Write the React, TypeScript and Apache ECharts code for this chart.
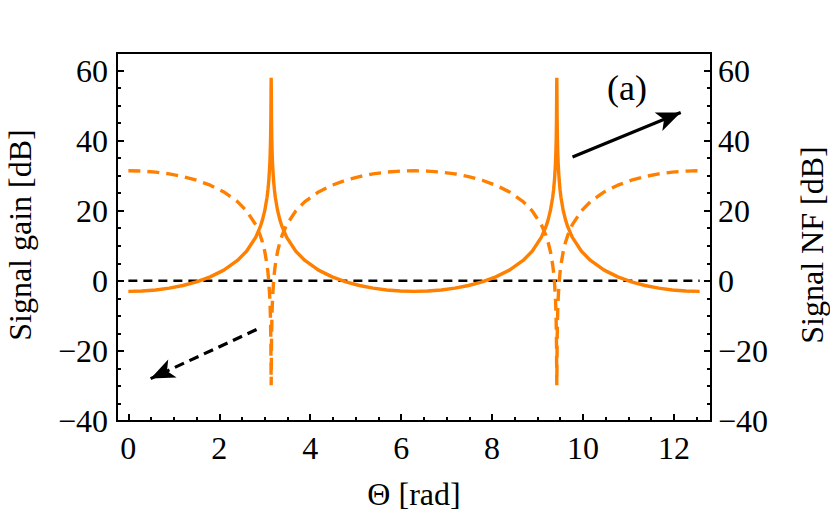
import React, { useEffect, useRef } from "react";
import * as echarts from "echarts";

// Θ [rad] sample positions
const theta = [
  0, 0.3, 0.6, 0.9, 1.2, 1.5, 1.8, 2.1, 2.4, 2.6, 2.8, 2.9, 2.95, 3.0, 3.05, 3.07, 3.09, 3.11, 3.12, 3.128, 3.135, 3.139, 3.1416,
  3.1442, 3.1482, 3.1552, 3.1632, 3.1732, 3.1932, 3.2132, 3.2332, 3.2832, 3.3332, 3.3832, 3.4832, 3.6832, 3.8832, 4.1832, 4.4832, 4.7832, 5.0832, 5.3832, 5.6832, 5.9832, 6.2832,
  6.5832, 6.8832, 7.1832, 7.4832, 7.7832, 8.0832, 8.3832, 8.6832, 8.8832, 9.0832, 9.1832, 9.2332, 9.2832, 9.3332, 9.3532, 9.3732, 9.3932, 9.4032, 9.4112, 9.4182, 9.4222, 9.4248,
  9.4274, 9.4314, 9.4384, 9.4464, 9.4564, 9.4764, 9.4964, 9.5164, 9.5664, 9.6164, 9.6664, 9.7664, 9.9664, 10.1664, 10.4664, 10.7664, 11.0664, 11.3664, 11.6664, 11.9664, 12.2664, 12.5664,
];

// Signal gain [dB] (solid)
const gainDb = [
  -3.01, -2.91, -2.61, -2.1, -1.34, -0.3, 1.12, 3.05, 5.81, 8.44, 12.38, 15.38, 17.38, 20.0, 23.78, 25.91, 28.76, 33.02, 36.32, 40.34, 46.62, 54.71, 57.9,
  54.71, 46.62, 40.34, 36.32, 33.02, 28.76, 25.91, 23.78, 20.0, 17.38, 15.38, 12.38, 8.44, 5.81, 3.05, 1.12, -0.3, -1.34, -2.1, -2.61, -2.91, -3.01,
  -2.91, -2.61, -2.1, -1.34, -0.3, 1.12, 3.05, 5.81, 8.44, 12.38, 15.38, 17.38, 20.0, 23.78, 25.91, 28.76, 33.02, 36.32, 40.34, 46.62, 54.71, 57.9,
  54.71, 46.62, 40.34, 36.32, 33.02, 28.76, 25.91, 23.78, 20.0, 17.38, 15.38, 12.38, 8.44, 5.81, 3.05, 1.12, -0.3, -1.34, -2.1, -2.61, -2.91, -3.01,
];

// Signal NF [dB] (dashed)
const nfDb = [
  31.41, 31.31, 31.01, 30.5, 29.74, 28.7, 27.28, 25.35, 22.59, 19.96, 16.02, 13.02, 11.02, 8.4, 4.62, 2.49, -0.36, -4.62, -7.92, -11.94, -18.22, -26.31, -29.8,
  -26.31, -18.22, -11.94, -7.92, -4.62, -0.36, 2.49, 4.62, 8.4, 11.02, 13.02, 16.02, 19.96, 22.59, 25.35, 27.28, 28.7, 29.74, 30.5, 31.01, 31.31, 31.41,
  31.31, 31.01, 30.5, 29.74, 28.7, 27.28, 25.35, 22.59, 19.96, 16.02, 13.02, 11.02, 8.4, 4.62, 2.49, -0.36, -4.62, -7.92, -11.94, -18.22, -26.31, -29.8,
  -26.31, -18.22, -11.94, -7.92, -4.62, -0.36, 2.49, 4.62, 8.4, 11.02, 13.02, 16.02, 19.96, 22.59, 25.35, 27.28, 28.7, 29.74, 30.5, 31.01, 31.31, 31.41,
];

// zero reference line
const zeroLineX = [0, 12.5664];
const zeroLineY = [0, 0];

// tick positions
const xMajorTicks = [0, 2, 4, 6, 8, 10, 12];
const xMinorTicks = [0.5, 1, 1.5, 2.5, 3, 3.5, 4.5, 5, 5.5, 6.5, 7, 7.5, 8.5, 9, 9.5, 10.5, 11, 11.5, 12.5];
const yMajorTicks = [-40, -20, 0, 20, 40, 60];
const yMinorTicks = [-35, -30, -25, -15, -10, -5, 5, 10, 15, 25, 30, 35, 45, 50, 55];

// arrow annotations (data coordinates)
const arrowGain = [[9.77, 35.3], [12.15, 48.0]];
const arrowNF = [[2.82, -13.9], [0.49, -27.9]];

const X_MIN = -0.25;
const X_MAX = 12.8164;
const Y_MIN = -40;
const Y_MAX = 65;

const FONT = "Liberation Serif";
const FS = 32;
const ORANGE = "#ff8000";

const fmt = (v: number) => (v < 0 ? "\u2212" + Math.abs(v) : String(v));

export default function App() {
  const ref = useRef<HTMLDivElement>(null);
  useEffect(() => {
    if (!ref.current) return;
    const chart = echarts.init(ref.current, null, { renderer: "svg" });

    const baseX = () => ({
      type: "value" as const,
      min: X_MIN,
      max: X_MAX,
      position: "bottom" as const,
      axisLine: { show: false, onZero: false },
      splitLine: { show: false },
    });
    const baseY = (pos: "left" | "right") => ({
      type: "value" as const,
      min: Y_MIN,
      max: Y_MAX,
      position: pos,
      axisLine: { show: false, onZero: false },
      splitLine: { show: false },
    });
    const tickStyle = { color: "#000", width: 2 };

    const option: any = {
      animation: false,
      backgroundColor: "#fff",
      grid: {
        left: 117,
        top: 53,
        width: 594,
        height: 368,
        show: true,
        borderColor: "#000",
        borderWidth: 2,
        containLabel: false,
      },
      xAxis: [
        {
          ...baseX(),
          axisTick: { show: true, inside: true, length: 7, customValues: xMajorTicks, lineStyle: tickStyle },
          axisLabel: {
            show: true,
            customValues: xMajorTicks,
            formatter: fmt,
            fontFamily: FONT,
            fontSize: FS,
            color: "#000",
            margin: 11,
          },
        },
        {
          ...baseX(),
          axisTick: { show: true, inside: true, length: 4, customValues: xMinorTicks, lineStyle: tickStyle },
          axisLabel: { show: false },
        },
      ],
      yAxis: [
        {
          ...baseY("left"),
          axisTick: { show: true, inside: true, length: 7, customValues: yMajorTicks, lineStyle: tickStyle },
          axisLabel: { show: true, customValues: yMajorTicks, formatter: fmt, fontFamily: FONT, fontSize: FS, color: "#000", margin: 9 },
        },
        {
          ...baseY("left"),
          axisTick: { show: true, inside: true, length: 4, customValues: yMinorTicks, lineStyle: tickStyle },
          axisLabel: { show: false },
        },
        {
          ...baseY("right"),
          axisTick: { show: true, inside: true, length: 7, customValues: yMajorTicks, lineStyle: tickStyle },
          axisLabel: { show: true, customValues: yMajorTicks, formatter: fmt, fontFamily: FONT, fontSize: FS, color: "#000", margin: 7 },
        },
        {
          ...baseY("right"),
          axisTick: { show: true, inside: true, length: 4, customValues: yMinorTicks, lineStyle: tickStyle },
          axisLabel: { show: false },
        },
      ],
      series: [
        {
          name: "zero",
          type: "line",
          data: zeroLineX.map((x, i) => [x, zeroLineY[i]]),
          showSymbol: false,
          silent: true,
          lineStyle: { color: "#000", width: 2.4, type: [9, 6] },
          z: 1,
          markLine: {
            silent: true,
            symbol: ["none", "arrow"],
            symbolSize: [15, 24],
            label: { show: false },
            emphasis: { disabled: true },
            data: [
              [
                { coord: arrowGain[0], lineStyle: { color: "#000", width: 3.2, type: "solid" } },
                { coord: arrowGain[1] },
              ],
              [
                { coord: arrowNF[0], lineStyle: { color: "#000", width: 3.2, type: [10, 6] } },
                { coord: arrowNF[1] },
              ],
            ],
          },
        },
        {
          name: "Signal gain",
          type: "line",
          data: theta.map((x, i) => [x, gainDb[i]]),
          showSymbol: false,
          silent: true,
          lineStyle: { color: ORANGE, width: 3.4 },
          z: 3,
        },
        {
          name: "Signal NF",
          type: "line",
          data: theta.map((x, i) => [x, nfDb[i]]),
          showSymbol: false,
          silent: true,
          lineStyle: { color: ORANGE, width: 3.4, type: [12, 7] },
          z: 2,
        },
      ],
      graphic: [
        {
          type: "text",
          x: 20,
          y: 235,
          rotation: Math.PI / 2,
          style: { text: "Signal gain [dB]", font: `${FS}px ${FONT}`, fill: "#000", textAlign: "center", textVerticalAlign: "middle" },
        },
        {
          type: "text",
          x: 812,
          y: 245,
          rotation: Math.PI / 2,
          style: { text: "Signal NF [dB]", font: `${FS}px ${FONT}`, fill: "#000", textAlign: "center", textVerticalAlign: "middle" },
        },
        {
          type: "text",
          x: 414,
          y: 494,
          style: { text: "\u0398 [rad]", font: `${FS}px ${FONT}`, fill: "#000", textAlign: "center", textVerticalAlign: "middle" },
        },
        {
          type: "text",
          x: 627,
          y: 88,
          style: { text: "(a)", font: `36px ${FONT}`, fill: "#000", textAlign: "center", textVerticalAlign: "middle" },
        },
      ],
    };
    chart.setOption(option);
    return () => chart.dispose();
  }, []);
  return <div ref={ref} style={{ position: "fixed", left: 0, top: 0, width: 830, height: 522 }} />;
}
